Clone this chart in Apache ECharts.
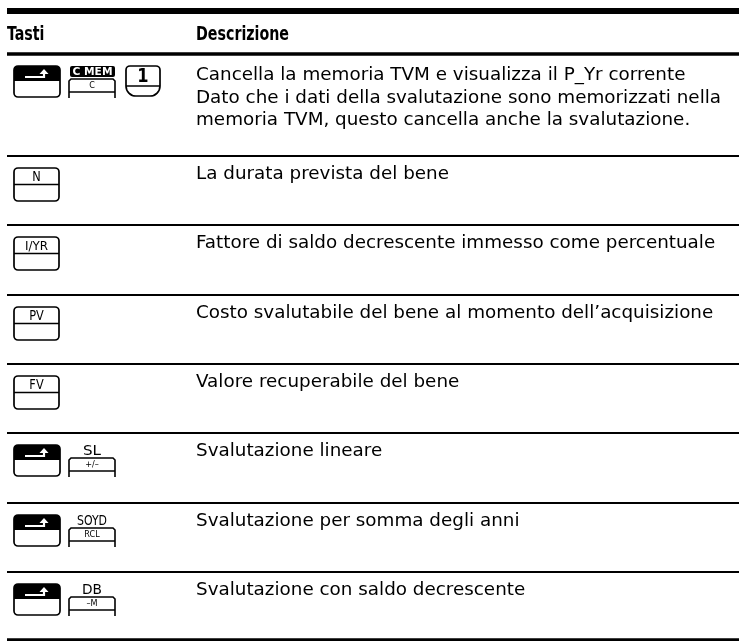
<!DOCTYPE html>
<html><head><meta charset="utf-8">
<script src="https://cdn.jsdelivr.net/npm/echarts@6/dist/echarts.min.js"></script>
<style>html,body{margin:0;padding:0;background:#fff;overflow:hidden}#c{width:739px;height:641px}</style>
</head><body><div id="c"></div>
<script>
// ---- content ----
var headers = ['Tasti', 'Descrizione'];
var rowKeys = [
  [{t:'shift'}, {t:'fn', top:'C MEM', face:'C', inv:true}, {t:'digit', face:'1'}],
  [{t:'plain', face:'N'}],
  [{t:'plain', face:'I/YR'}],
  [{t:'plain', face:'PV'}],
  [{t:'plain', face:'FV'}],
  [{t:'shift'}, {t:'fn', top:'SL', face:'+/\u2013'}],
  [{t:'shift'}, {t:'fn', top:'SOYD', face:'RCL'}],
  [{t:'shift'}, {t:'fn', top:'DB', face:'\u2013M'}]
];
var descriptions = [
  ['Cancella la memoria TVM e visualizza il P_Yr corrente',
   'Dato che i dati della svalutazione sono memorizzati nella',
   'memoria TVM, questo cancella anche la svalutazione.'],
  ['La durata prevista del bene'],
  ['Fattore di saldo decrescente immesso come percentuale'],
  ['Costo svalutabile del bene al momento dell\u2019acquisizione'],
  ['Valore recuperabile del bene'],
  ['Svalutazione lineare'],
  ['Svalutazione per somma degli anni'],
  ['Svalutazione con saldo decrescente']
];

// ---- layout ----
var BODY = '"DejaVu Sans", "Open Sans", sans-serif';
var COND = '"DejaVu Sans Condensed", "DejaVu Sans", sans-serif';
var X0 = 7, X1 = 739, DESC_X = 196;
var rowTops = [54, 156, 225, 295, 364, 433, 503, 572];
var els = [];

var mctx = document.createElement('canvas').getContext('2d');
function measure(s, size, fam, fw) {
  mctx.font = (fw || 'normal') + ' ' + size + 'px ' + fam;
  return mctx.measureText(s).width;
}
// horizontal fit: reference widths of a few lines (px) vs. measured widths
var BODY_SIZE = 17;
var refLines = [descriptions[0][0], descriptions[0][1], descriptions[2][0], descriptions[3][0], descriptions[1][0]];
var refWidths = [504, 519, 514, 516, 251];
var sumRef = 0, sumMeas = 0;
refLines.forEach(function (s, i) { sumRef += refWidths[i]; sumMeas += measure(s, BODY_SIZE, BODY); });
var bodySx = sumRef / sumMeas;
var HEAD_SIZE = 19;
var headSx = 93 / measure(headers[1], HEAD_SIZE, COND, 'bold');

function hline(y, w) {
  els.push({type:'rect', shape:{x:X0, y:y - w/2, width:X1 - X0, height:w}, style:{fill:'#000'}});
}
function text(x, y, s, size, opt) {
  opt = opt || {};
  els.push({type:'text', x:x, y:y, scaleX: opt.sx || 1,
    style:{text:s, fontSize:size, fontFamily:opt.ff || BODY, fontWeight:opt.fw || 'normal',
      fill:opt.fill || '#000', align:opt.align || 'left', verticalAlign:'middle'}});
}
function fitText(x, y, s, size, width, opt) {
  opt = opt || {};
  var m = measure(s, size, opt.ff || BODY, opt.fw);
  opt.sx = Math.min(opt.maxSx || 1.2, width / m);
  text(x, y, s, size, opt);
}
function shiftKey(x, T) {
  els.push({type:'rect', shape:{x:x, y:T, width:46, height:31, r:4}, style:{fill:'#fff', stroke:'#000', lineWidth:1.7}});
  els.push({type:'rect', shape:{x:x, y:T, width:46, height:15, r:[4,4,0,0]}, style:{fill:'#000'}});
  els.push({type:'polyline', shape:{points:[[x+11,T+11],[x+30,T+11],[x+30,T+7.5]]}, style:{stroke:'#fff', lineWidth:2.2, fill:null}});
  els.push({type:'polygon', shape:{points:[[x+25.5,T+8],[x+34.5,T+8],[x+30,T+3]]}, style:{fill:'#fff'}});
}
function plainKey(x, T, face) {
  els.push({type:'rect', shape:{x:x, y:T, width:45, height:33, r:4}, style:{fill:'#fff', stroke:'#000', lineWidth:1.7}});
  els.push({type:'line', shape:{x1:x, y1:T+16.5, x2:x+45, y2:T+16.5}, style:{stroke:'#000', lineWidth:1.5}});
  if (face.length > 2) fitText(x+22.5, T+9.5, face, 12, 23, {align:'center', ff:COND});
  else text(x+22.5, T+9.5, face, 14, {align:'center', sx:0.9, ff:COND});
}
function fnKey(x, T, topLabel, face, inv) {
  var w = 46;
  if (inv) {
    els.push({type:'rect', shape:{x:x+1, y:T, width:w-1, height:11, r:2}, style:{fill:'#000'}});
    fitText(x + w/2 + 0.5, T+5.7, topLabel, 11, 40, {align:'center', fw:'bold', fill:'#fff', ff:COND});
  } else {
    fitText(x + w/2, T+6, topLabel, 14, topLabel.length > 2 ? 30 : 20, {align:'center', ff:COND});
  }
  var ft = T + 13;
  els.push({type:'polyline', shape:{points:[[x,T+32],[x,ft+2],[x+2,ft],[x+w-2,ft],[x+w,ft+2],[x+w,T+32]]}, style:{stroke:'#000', lineWidth:1.6, fill:null}});
  els.push({type:'line', shape:{x1:x, y1:T+26, x2:x+w, y2:T+26}, style:{stroke:'#000', lineWidth:1.5}});
  text(x + w/2, ft + 6.5, face, 9, {align:'center', ff:COND});
}
function digitKey(x, T, face) {
  var w = 34;
  els.push({type:'rect', shape:{x:x, y:T, width:w, height:30, r:[4,4,10,10]}, style:{fill:'#fff', stroke:'#000', lineWidth:1.7}});
  els.push({type:'line', shape:{x1:x, y1:T+20, x2:x+w, y2:T+20}, style:{stroke:'#000', lineWidth:1.4}});
  text(x + w/2, T+10.5, face, 20, {align:'center', sx:0.9, ff:COND, fw:'bold'});
}

// rules
hline(11, 6);
hline(rowTops[0], 3.5);
for (var i = 1; i < rowTops.length; i++) hline(rowTops[i], 2);
hline(640, 3.5);

// header
text(X0, 35.5, headers[0], HEAD_SIZE, {fw:'bold', ff:COND, sx:headSx});
text(DESC_X, 35.5, headers[1], HEAD_SIZE, {fw:'bold', ff:COND, sx:headSx});

// rows
rowKeys.forEach(function (keys, r) {
  var rowTop = rowTops[r];
  var T = rowTop + 12;
  keys.forEach(function (k) {
    if (k.t === 'shift') { shiftKey(14, T); }
    else if (k.t === 'plain') { plainKey(14, T, k.face); }
    else if (k.t === 'fn') { fnKey(69, T, k.top, k.face, k.inv); }
    else if (k.t === 'digit') { digitKey(126, T, k.face); }
  });
  var ty = (r === 0 ? rowTop + 22 : rowTop + 18.5);
  descriptions[r].forEach(function (s, j) {
    text(DESC_X, ty + j * 22.5, s, BODY_SIZE, {sx:bodySx});
  });
});

var chart = echarts.init(document.getElementById('c'), null, {renderer:'canvas'});
chart.setOption({backgroundColor:'#fff', animation:false, graphic:{elements:els}});
</script></body></html>
